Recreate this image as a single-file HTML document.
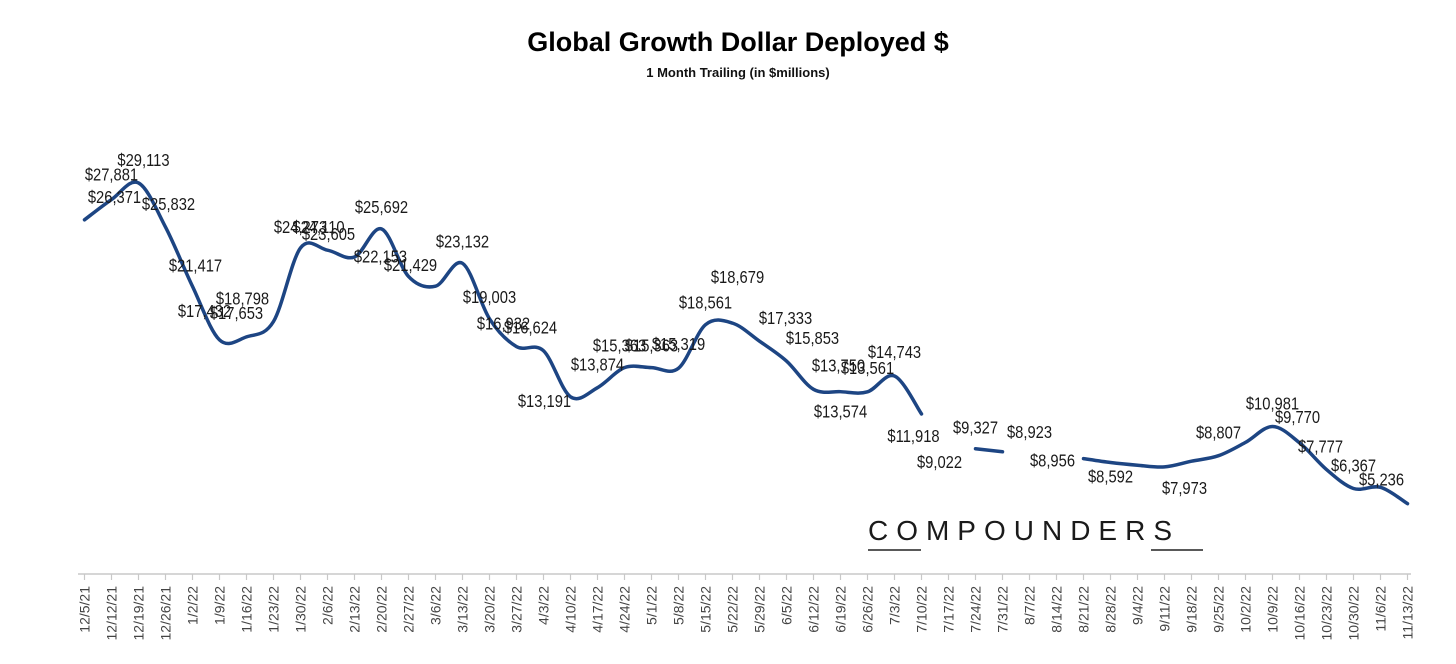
<!DOCTYPE html>
<html><head><meta charset="utf-8">
<style>
html,body{margin:0;padding:0;background:#fff;}
svg{display:block;}
</style></head>
<body>
<svg id="chart" width="1456" height="664" viewBox="0 0 1456 664" xmlns="http://www.w3.org/2000/svg">
  <rect width="1456" height="664" fill="#fff"/>
  <text x="738" y="51" text-anchor="middle" font-family="'Liberation Sans', sans-serif" font-weight="bold" font-size="27" fill="#000">Global Growth Dollar Deployed $</text>
  <text x="738" y="77" text-anchor="middle" font-family="'Liberation Sans', sans-serif" font-weight="bold" font-size="13" fill="#111">1 Month Trailing (in $millions)</text>
  <text x="1024" y="540" text-anchor="middle" font-family="'Liberation Sans', sans-serif" font-size="28" letter-spacing="8" fill="#1a1a1a">COMPOUNDERS</text>
  <line x1="868" y1="550" x2="921" y2="550" stroke="#222" stroke-width="1.5"/>
  <line x1="1151" y1="550" x2="1203" y2="550" stroke="#222" stroke-width="1.5"/>
  <g id="axis"></g>
  <g id="series"></g>
  <g id="labels"></g>
</svg>
<script>
const categories = ["12/5/21","12/12/21","12/19/21","12/26/21","1/2/22","1/9/22","1/16/22","1/23/22","1/30/22","2/6/22","2/13/22","2/20/22","2/27/22","3/6/22","3/13/22","3/20/22","3/27/22","4/3/22","4/10/22","4/17/22","4/24/22","5/1/22","5/8/22","5/15/22","5/22/22","5/29/22","6/5/22","6/12/22","6/19/22","6/26/22","7/3/22","7/10/22","7/17/22","7/24/22","7/31/22","8/7/22","8/14/22","8/21/22","8/28/22","9/4/22","9/11/22","9/18/22","9/25/22","10/2/22","10/9/22","10/16/22","10/23/22","10/30/22","11/6/22","11/13/22"];
const values = [26371,27881,29113,25832,21417,17432,17653,18798,24273,24110,23605,25692,22153,21429,23132,19003,16932,16624,13191,13874,15363,15363,15319,18561,18679,17333,15853,13750,13574,13561,14743,11918,9022,9327,9100,8923,8956,8592,8300,8100,7973,8400,8807,9800,10981,9770,7777,6367,6450,5236];
const hiddenPoints = [32,35,36];
const unlabeled = [34,38,39,41,43,48];
// label offsets (layout only)
const labelDx = [30,0,5,3,3,-15,-10,-31,0,-9,-26,0,-28,-25,0,0,-13,-13,-26,0,-5,0,0,0,5,26,26,25,0,0,0,-8,-9,0,0,0,-4,27,0,0,20,0,0,0,0,-2,-6,0,0,-26];
const labelDy = [-23,-25,-23,-23,-21,-29,-24,-23,-21,-23,-23,-22,-20,-21,-22,-22,-23,-23,4,-23,-22,-22,-24,-22,-46,-23,-23,-24,20,-24,-24,22,9,-21,0,-22,7,18,0,0,21,0,-23,0,-23,-26,-23,-23,0,-24];

const NS = "http://www.w3.org/2000/svg";
const X0 = 84.5, DX = 27, AXIS_Y = 574, K = 0.013431;
function xPos(i){ return X0 + i*DX; }
function yPos(v){ return AXIS_Y - v*K; }
function fmt(v){ return "$" + v.toLocaleString("en-US"); }

const axis = document.getElementById("axis");
const al = document.createElementNS(NS,"line");


al.setAttribute("x1", 78); al.setAttribute("x2", 1411);
al.setAttribute("y1", AXIS_Y); al.setAttribute("y2", AXIS_Y);
al.setAttribute("stroke", "#c8c8c8"); al.setAttribute("stroke-width", "1.5");
axis.appendChild(al);
categories.forEach((c,i)=>{
  const t = document.createElementNS(NS,"line");
  
  
  t.setAttribute("x1", xPos(i)); t.setAttribute("x2", xPos(i));
  t.setAttribute("y1", AXIS_Y); t.setAttribute("y2", AXIS_Y+6);
  t.setAttribute("stroke", "#c8c8c8"); t.setAttribute("stroke-width", "1.2");
  axis.appendChild(t);
  const tx = document.createElementNS(NS,"text");
  
  
  const lx = xPos(i)+5, ly = 586;
  tx.setAttribute("x", lx); tx.setAttribute("y", ly);
  tx.setAttribute("transform", `rotate(-90 ${lx} ${ly})`);
  tx.setAttribute("text-anchor", "end");
  tx.setAttribute("font-family", "'Liberation Sans', sans-serif");
  tx.setAttribute("font-size", "14");
  tx.setAttribute("fill", "#444");
  tx.textContent = c;
  axis.appendChild(tx);
});

const segs = []; let cur = [];
values.forEach((v,i)=>{
  if (hiddenPoints.includes(i)) { if (cur.length) segs.push(cur); cur = []; }
  else cur.push([xPos(i), yPos(v)]);
});
if (cur.length) segs.push(cur);
const series = document.getElementById("series");
segs.forEach(pts=>{
  if (pts.length < 2) return;
  let d = `M${pts[0][0]},${pts[0][1]}`;
  for (let i=0;i<pts.length-1;i++){
    const p0 = pts[Math.max(0,i-1)], p1 = pts[i], p2 = pts[i+1], p3 = pts[Math.min(pts.length-1,i+2)];
    const c1x = p1[0] + (p2[0]-p0[0])/6, c1y = p1[1] + (p2[1]-p0[1])/6;
    const c2x = p2[0] - (p3[0]-p1[0])/6, c2y = p2[1] - (p3[1]-p1[1])/6;
    d += ` C${c1x},${c1y} ${c2x},${c2y} ${p2[0]},${p2[1]}`;
  }
  const p = document.createElementNS(NS,"path");
  
  
  p.setAttribute("d", d);
  p.setAttribute("fill", "none");
  p.setAttribute("stroke", "#1d4583");
  p.setAttribute("stroke-width", "3.5");
  p.setAttribute("stroke-linecap", "round");
  series.appendChild(p);
});

const labels = document.getElementById("labels");
values.forEach((v,i)=>{
  if (unlabeled.includes(i)) return;
  const t = document.createElementNS(NS,"text");
  
  
  const cx = xPos(i)+labelDx[i], cy = yPos(v)+labelDy[i]+6;
  t.setAttribute("x", cx);
  t.setAttribute("y", cy);
  t.setAttribute("text-anchor", "middle");
  t.setAttribute("transform", `translate(${cx} 0) scale(0.82 1) translate(${-cx} 0)`);
  t.setAttribute("font-family", "'Liberation Sans', sans-serif");
  t.setAttribute("font-size", "18");
  t.setAttribute("fill", "#1a1a1a");
  t.textContent = fmt(v);
  labels.appendChild(t);
});
</script>
</body></html>
